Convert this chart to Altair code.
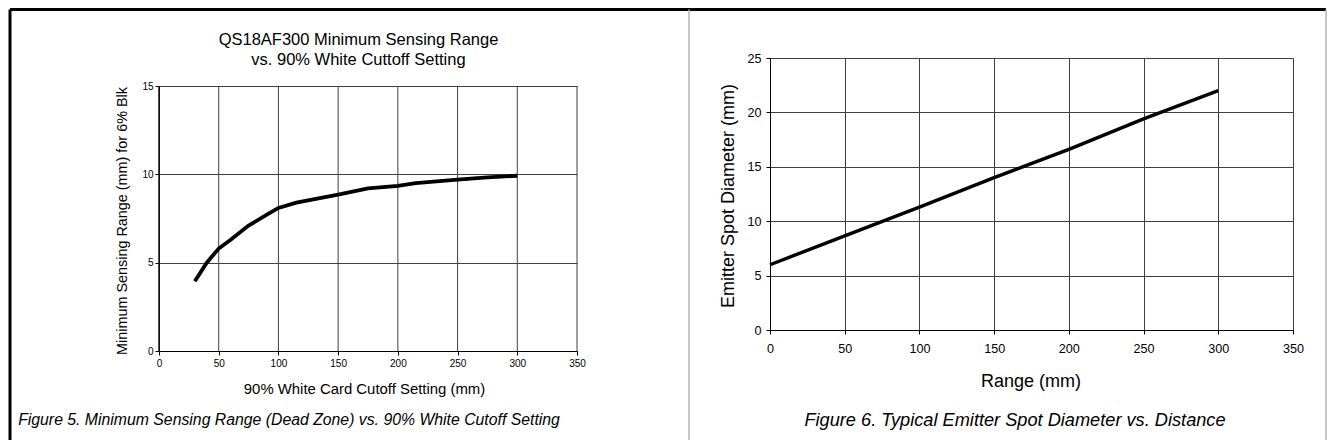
import altair as alt
import pandas as pd

# ---------------- data ----------------
# Figure 5: minimum sensing range vs. 90% white cutoff setting
cutoff_mm = [30, 40, 50, 60, 75, 90, 100, 115, 150, 175, 200, 215, 250, 275, 300]
min_range_mm = [3.95, 5.0, 5.8, 6.3, 7.1, 7.7, 8.1, 8.4, 8.85, 9.2, 9.35, 9.5, 9.7, 9.83, 9.92]

# Figure 6: emitter spot diameter vs. range
range_mm = [0, 50, 100, 150, 200, 250, 300]
spot_mm = [6.0, 8.65, 11.3, 14.0, 16.6, 19.4, 22.0]

x_ticks = [0, 50, 100, 150, 200, 250, 300, 350]
left_y_ticks = [0, 5, 10, 15]
right_y_ticks = [0, 5, 10, 15, 20, 25]

left_title = ["QS18AF300 Minimum Sensing Range", "vs. 90% White Cuttoff Setting"]
left_x_title = "90% White Card Cutoff Setting (mm)"
left_y_title = "Minimum Sensing Range (mm) for 6% Blk"
left_caption = "Figure 5. Minimum Sensing Range (Dead Zone) vs. 90% White Cutoff Setting"
right_x_title = "Range (mm)"
right_y_title = "Emitter Spot Diameter (mm)"
right_caption = "Figure 6. Typical Emitter Spot Diameter vs. Distance"

# ---------------- styling ----------------
SANS = "'Liberation Sans', Arial, sans-serif"
GRID = "#404040"

LW, LH = 418, 265      # left plot area
LTOP = 28              # left plot starts 28px lower than the right one
RW, RH = 523, 272      # right plot area

left_df = pd.DataFrame({"x": cutoff_mm, "y": min_range_mm})
right_df = pd.DataFrame({"x": range_mm, "y": spot_mm})
left_grid_df = pd.DataFrame({"x": x_ticks})


def axis(values, label_size, pad, tick=4, grid=True):
    return alt.Axis(values=values, grid=grid, gridColor=GRID, gridWidth=1,
                    domainColor="#000000", domainWidth=1, tickColor="#000000",
                    tickSize=tick, tickWidth=1, labelFont=SANS,
                    labelFontSize=label_size, labelColor="#000000",
                    labelPadding=pad, labelFlush=False, labelOverlap=False,
                    labelAngle=0)


def text(t, x, y, size, angle=0, italic=False):
    kw = dict(text=t, font=SANS, fontSize=size, color="#000000",
              align="center", baseline="middle", angle=angle)
    if italic:
        kw["fontStyle"] = "italic"
    return alt.Chart(alt.Data(values=[{"k": 1}])).mark_text(**kw).encode(
        x=alt.value(x), y=alt.value(y))


def hrule(x1, x2, y, color, width):
    return alt.Chart(alt.Data(values=[{"k": 1}])).mark_rule(
        color=color, strokeWidth=width).encode(
        x=alt.value(x1), x2=alt.value(x2), y=alt.value(y))


def vrule(x, y1, y2, color, width):
    return alt.Chart(alt.Data(values=[{"k": 1}])).mark_rule(
        color=color, strokeWidth=width).encode(
        x=alt.value(x), y=alt.value(y1), y2=alt.value(y2))


# ---------------- left panel (Figure 5) ----------------
lx = alt.X("x:Q", scale=alt.Scale(domain=[0, 350], nice=False),
           axis=axis(x_ticks, 10, 3, grid=False), title=None)
ly_scale = alt.Scale(domain=[0, 15], nice=False, range=[LH + LTOP, LTOP])

left_vgrid = alt.Chart(left_grid_df).mark_rule(color=GRID, strokeWidth=1).encode(
    x=lx,
    y=alt.Y("y0:Q", scale=ly_scale, axis=axis(left_y_ticks, 10, 2), title=None),
    y2=alt.Y2("y1:Q"),
).transform_calculate(y0="0", y1="15")

left_yaxis_line = alt.Chart(alt.Data(values=[{"k": 1}])).mark_rule(
    color="#000000", strokeWidth=1).encode(
    x=alt.datum(0), y=alt.datum(0), y2=alt.datum(15))

left_line = alt.Chart(left_df).mark_line(color="#000000", strokeWidth=3.8).encode(
    x=alt.X("x:Q"),
    y=alt.Y("y:Q"),
)

T = LTOP
left = alt.layer(
    left_vgrid,
    left_yaxis_line,
    left_line,
    text(left_title[0], 199.5, T - 46, 16.5),
    text(left_title[1], 199.5, T - 26, 16.5),
    text(left_y_title, -36, T + 135, 14.4, angle=270),
    text(left_x_title, 205.5, T + 304, 14.9),
    text(left_caption, 130, T + 334, 15.8, italic=True),
    # frame of the figure
    hrule(-149, 1167, T - 76.5, "#000000", 3),
    vrule(-149, T - 76.5, T + 354, "#000000", 3),
    vrule(530, T - 76.5, T + 354, "#b3b3b3", 1.5),
    vrule(1167, T - 76.5, T + 354, "#b3b3b3", 1.5),
).properties(width=LW, height=LH + LTOP)

# ---------------- right panel (Figure 6) ----------------
right_line = alt.Chart(right_df).mark_line(color="#000000", strokeWidth=3.4).encode(
    x=alt.X("x:Q", scale=alt.Scale(domain=[0, 350], nice=False),
            axis=axis(x_ticks, 12.6, 8), title=None),
    y=alt.Y("y:Q", scale=alt.Scale(domain=[0, 25], nice=False),
            axis=axis(right_y_ticks, 12.6, 5), title=None),
)

right = alt.layer(
    right_line,
    text(right_y_title, -41, 138, 18, angle=270),
    text(right_x_title, 261, 323.7, 18),
    text(right_caption, 245, 362.7, 18.2, italic=True),
).properties(width=RW, height=RH)

chart = alt.hconcat(left, right, spacing=193, bounds="flush").properties(
    padding=0, background="#ffffff"
).configure_view(strokeWidth=0)

chart.save("out.html", embed_options={"renderer": "svg", "actions": False})
